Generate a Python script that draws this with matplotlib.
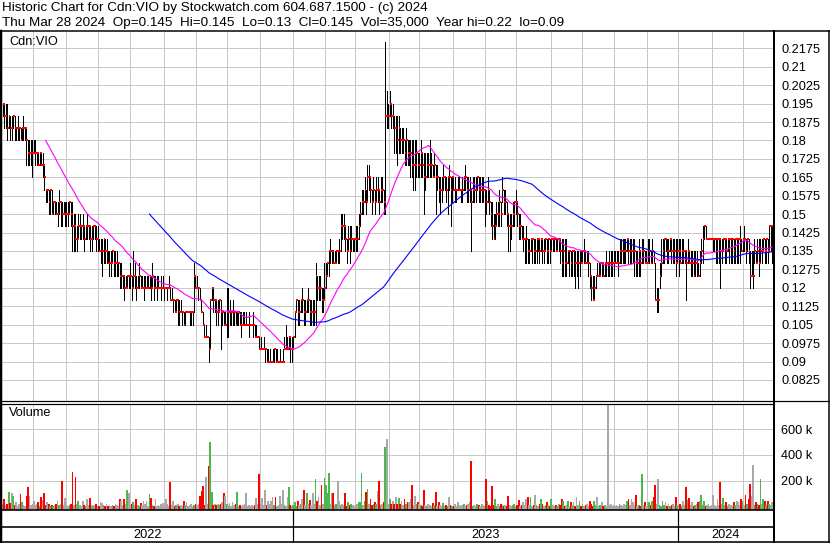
import numpy as np
import pandas as pd
import matplotlib
matplotlib.use("Agg")
import matplotlib.pyplot as plt

plt.rcParams['font.family'] = ['Liberation Sans', 'DejaVu Sans']

# prices in ticks of 0.005, one line per month (Apr 2022 .. Mar 2024)
TICK = 0.005
close_ticks = [
    39, 38, 38, 37, 38, 37, 37, 38, 37, 37, 37, 37, 36, 37, 37, 37, 36, 35, 35, 35, 35,
    35, 35, 35, 34, 35, 34, 34, 33, 32, 32, 31, 32, 30, 31, 31, 30, 30, 31, 31, 30, 30, 30,
    30, 30, 31, 30, 29, 29, 28, 28, 29, 29, 29, 29, 28, 29, 29, 29, 28, 28, 29, 29, 28, 28,
    27, 27, 27, 28, 27, 27, 26, 26, 26, 27, 26, 26, 26, 26, 25, 25, 25, 24, 24, 25, 25,
    25, 24, 25, 25, 24, 24, 25, 24, 24, 24, 24, 24, 24, 25, 24, 25, 24, 24, 24, 24, 24, 24, 24,
    24, 24, 24, 24, 23, 23, 23, 22, 23, 23, 22, 22, 22, 21, 22, 22, 22, 22, 22, 22, 25, 24,
    24, 24, 23, 22, 21, 20, 20, 20, 19, 23, 24, 23, 23, 22, 22, 23, 22, 22, 21, 21, 22,
    22, 22, 22, 22, 22, 21, 22, 22, 21, 21, 21, 21, 21, 21, 21, 21, 21, 21, 20, 20, 20, 19,
    19, 19, 19, 19, 18, 18, 18, 18, 18, 19, 18, 18, 18, 18, 18, 18, 19, 19, 19, 20, 19, 19,
    20, 22, 23, 22, 22, 23, 23, 22, 22, 23, 23, 22, 22, 22, 22, 25, 24, 24, 24, 23, 23, 24,
    25, 26, 27, 27, 27, 26, 26, 27, 27, 27, 29, 29, 29, 28, 27, 28, 27, 28, 28, 28,
    28, 28, 29, 30, 31, 31, 32, 31, 33, 33, 32, 31, 32, 31, 32, 32, 31, 32, 32, 31, 38, 38, 38,
    39, 38, 38, 37, 37, 36, 37, 36, 36, 36, 35, 36, 35, 35, 35, 34, 34, 34, 35, 34,
    34, 35, 34, 33, 33, 34, 34, 34, 34, 33, 34, 33, 33, 32, 32, 32, 33, 33, 32, 33, 33, 32, 33,
    32, 32, 32, 32, 32, 32, 32, 33, 33, 32, 32, 32, 31, 32, 32, 32, 33, 32, 32, 32, 32, 32,
    31, 32, 31, 30, 29, 28, 29, 30, 30, 31, 30, 32, 31, 31, 30, 29, 29, 29, 30, 31, 31,
    30, 29, 29, 28, 28, 28, 28, 27, 27, 28, 28, 27, 27, 28, 28, 27, 28, 27, 27, 28, 27, 28, 27,
    28, 28, 28, 27, 28, 28, 27, 26, 27, 26, 26, 27, 27, 26, 27, 27, 26, 26, 26, 27, 26,
    27, 27, 26, 26, 26, 25, 24, 23, 24, 25, 25, 25, 26, 26, 25, 26, 26, 26, 26, 26, 26, 26,
    26, 26, 26, 27, 27, 27, 27, 27, 28, 27, 27, 27, 27, 27, 26, 26, 27, 26, 27, 27, 26, 26,
    26, 27, 26, 27, 26, 23, 23, 23, 25, 26, 27, 28, 28, 27, 27, 28, 27, 27, 27, 26, 27,
    27, 26, 27, 27, 27, 26, 27, 26, 26, 26, 25, 26, 26, 25, 26, 27, 28, 29, 28, 28, 28, 28, 28,
    28, 28, 28, 28, 28, 27, 27, 28, 28, 27, 28, 28, 28, 28, 27, 28, 28, 28, 28, 27, 28,
    28, 27, 28, 27, 25, 25, 25, 27, 26, 27, 26, 27, 27, 28, 27, 28, 27, 29, 29, 29,
]
high_ticks = [
    39, 39, 39, 39, 38, 38, 38, 38, 38, 37, 38, 37, 37, 37, 38, 37, 37, 36, 36, 36, 36,
    36, 36, 35, 35, 35, 35, 35, 34, 32, 32, 32, 32, 32, 31, 31, 31, 31, 32, 31, 31, 31, 31,
    31, 31, 31, 31, 31, 30, 30, 29, 30, 30, 29, 30, 29, 29, 30, 29, 29, 29, 29, 29, 29, 29,
    28, 28, 28, 28, 28, 28, 27, 27, 27, 27, 27, 27, 27, 26, 26, 26, 25, 25, 25, 25, 25,
    26, 25, 27, 26, 25, 25, 26, 25, 25, 25, 25, 25, 25, 25, 25, 26, 25, 25, 25, 25, 24, 25, 25,
    24, 24, 24, 25, 24, 24, 23, 23, 23, 23, 23, 23, 22, 22, 22, 22, 22, 22, 22, 22, 26, 25,
    25, 24, 24, 23, 22, 21, 21, 20, 20, 23, 24, 24, 23, 23, 23, 23, 23, 22, 22, 22, 24,
    24, 23, 22, 23, 22, 22, 22, 22, 22, 22, 22, 22, 22, 21, 22, 21, 21, 22, 21, 21, 20, 20,
    20, 19, 20, 19, 19, 19, 19, 18, 19, 19, 19, 19, 18, 19, 18, 19, 20, 21, 20, 20, 20, 20,
    20, 22, 23, 23, 23, 23, 24, 23, 23, 23, 24, 23, 23, 23, 23, 26, 25, 25, 25, 24, 24, 26,
    26, 26, 27, 28, 27, 27, 27, 27, 27, 28, 30, 30, 30, 29, 28, 29, 29, 29, 28, 28,
    29, 29, 30, 31, 32, 32, 33, 32, 34, 34, 33, 32, 33, 32, 33, 33, 32, 33, 33, 32, 44, 40, 39,
    40, 39, 39, 38, 38, 38, 38, 37, 37, 37, 36, 37, 36, 36, 36, 36, 36, 36, 36, 35,
    35, 36, 35, 35, 35, 35, 35, 36, 35, 34, 35, 34, 34, 33, 33, 33, 34, 33, 33, 33, 34, 33, 33,
    33, 33, 32, 33, 33, 32, 33, 33, 34, 33, 33, 33, 32, 33, 33, 33, 33, 33, 33, 33, 33, 32,
    32, 33, 32, 31, 31, 30, 30, 31, 31, 32, 31, 33, 32, 32, 31, 30, 30, 30, 31, 31, 32,
    31, 30, 30, 29, 29, 28, 29, 28, 28, 28, 28, 28, 28, 28, 28, 28, 28, 28, 28, 28, 28, 28, 28,
    28, 28, 28, 28, 28, 28, 28, 28, 28, 28, 28, 27, 27, 27, 27, 27, 27, 27, 27, 27, 27,
    27, 28, 27, 27, 27, 26, 25, 25, 25, 25, 26, 26, 26, 26, 26, 26, 27, 26, 27, 27, 27, 27,
    27, 27, 27, 28, 28, 28, 28, 28, 28, 28, 28, 28, 28, 28, 27, 27, 28, 27, 28, 28, 27, 27,
    28, 28, 27, 28, 27, 26, 24, 24, 26, 28, 28, 28, 28, 28, 28, 28, 28, 28, 28, 28, 28,
    28, 28, 28, 28, 27, 27, 28, 27, 27, 27, 27, 27, 27, 26, 27, 28, 29, 29, 29, 28, 28, 28, 28,
    28, 28, 28, 28, 28, 28, 28, 28, 28, 28, 28, 28, 28, 28, 28, 28, 28, 28, 29, 28, 28,
    29, 28, 28, 28, 27, 27, 27, 28, 27, 28, 28, 28, 28, 28, 28, 28, 28, 29, 29, 29,
]
low_ticks = [
    38, 37, 37, 36, 37, 36, 36, 37, 36, 36, 36, 36, 36, 36, 36, 36, 34, 34, 34, 34, 33,
    35, 34, 34, 34, 34, 34, 33, 32, 31, 31, 30, 30, 30, 30, 30, 30, 29, 30, 29, 29, 30, 29,
    29, 29, 30, 29, 27, 27, 27, 27, 28, 28, 28, 28, 27, 28, 28, 28, 27, 27, 28, 28, 27, 27,
    27, 26, 25, 26, 26, 26, 26, 25, 25, 26, 25, 25, 25, 25, 24, 24, 24, 23, 24, 24, 24,
    24, 23, 24, 24, 23, 24, 24, 24, 24, 23, 24, 24, 24, 24, 23, 24, 23, 24, 23, 24, 24, 23, 24,
    23, 24, 23, 24, 23, 23, 22, 22, 22, 21, 21, 22, 21, 21, 21, 22, 22, 21, 21, 21, 22, 24,
    24, 23, 23, 22, 21, 20, 20, 20, 18, 19, 23, 22, 22, 21, 21, 22, 19, 21, 21, 21, 20,
    20, 21, 21, 21, 21, 21, 21, 21, 21, 20, 21, 21, 21, 21, 20, 21, 21, 20, 20, 20, 20, 19,
    19, 19, 19, 18, 18, 18, 18, 18, 18, 18, 18, 18, 18, 18, 18, 18, 19, 19, 19, 19, 18, 18,
    19, 20, 22, 21, 21, 22, 22, 21, 21, 22, 22, 21, 21, 21, 21, 21, 23, 23, 23, 22, 22, 23,
    24, 25, 25, 26, 26, 26, 26, 26, 26, 26, 27, 28, 28, 27, 26, 27, 26, 27, 27, 27,
    27, 27, 28, 29, 30, 30, 31, 30, 31, 32, 31, 30, 31, 30, 31, 31, 30, 31, 31, 30, 30, 37, 37,
    38, 37, 37, 35, 35, 34, 35, 35, 35, 35, 34, 34, 34, 34, 33, 33, 32, 32, 33, 33,
    33, 33, 33, 30, 32, 33, 33, 33, 33, 33, 33, 30, 32, 31, 30, 31, 32, 32, 31, 30, 32, 29, 31,
    32, 31, 31, 32, 32, 31, 31, 32, 32, 31, 31, 31, 27, 31, 31, 31, 32, 31, 31, 31, 31, 29,
    30, 31, 30, 29, 28, 28, 28, 29, 29, 29, 29, 31, 30, 30, 29, 27, 27, 28, 29, 29, 30,
    29, 28, 28, 28, 27, 26, 26, 26, 26, 27, 26, 26, 26, 26, 27, 26, 27, 26, 26, 27, 26, 26, 26,
    27, 27, 27, 27, 27, 27, 26, 25, 25, 25, 25, 26, 25, 25, 25, 25, 24, 25, 24, 25, 26,
    26, 26, 26, 26, 25, 24, 23, 23, 23, 24, 25, 25, 25, 25, 25, 25, 25, 25, 25, 25, 25, 25,
    26, 26, 25, 26, 26, 26, 26, 26, 27, 26, 26, 26, 26, 25, 25, 25, 25, 25, 26, 26, 26, 26,
    26, 26, 26, 26, 26, 23, 22, 22, 24, 25, 26, 26, 27, 26, 26, 27, 26, 26, 26, 25, 26,
    25, 26, 26, 26, 26, 23, 26, 26, 25, 25, 25, 25, 25, 25, 25, 26, 26, 28, 28, 28, 28, 28, 28,
    27, 27, 26, 26, 26, 24, 26, 27, 26, 26, 27, 26, 26, 26, 26, 26, 26, 26, 26, 27, 27,
    27, 26, 27, 26, 24, 25, 24, 26, 26, 26, 25, 26, 26, 27, 26, 26, 26, 27, 27, 26,
]
# daily volume, thousands of shares
volume_k = [
    20, 55, 10, 15, 110, 25, 100, 80, 10, 35, 5, 15, 95, 35, 10, 5, 80, 150, 80, 10, 15,
    40, 10, 15, 30, 5, 70, 50, 100, 10, 30, 15, 5, 10, 5, 10, 20, 40, 10, 15, 200, 10, 65,
    10, 5, 10, 15, 265, 10, 225, 20, 40, 10, 5, 40, 10, 5, 55, 10, 65, 10, 5, 10, 15, 5,
    5, 35, 25, 10, 5, 15, 5, 10, 5, 10, 5, 15, 10, 5, 55, 40, 10, 55, 15, 130, 100,
    10, 15, 35, 10, 55, 10, 5, 25, 10, 40, 15, 40, 5, 95, 65, 10, 5, 60, 5, 10, 5, 15, 25,
    10, 60, 15, 5, 190, 10, 40, 5, 10, 15, 5, 10, 5, 40, 10, 30, 5, 10, 15, 5, 10, 15,
    10, 15, 80, 120, 155, 10, 230, 15, 315, 500, 110, 10, 20, 10, 15, 10, 20, 30, 105, 80, 20,
    10, 25, 5, 30, 10, 15, 110, 5, 10, 5, 10, 15, 105, 5, 10, 5, 10, 5, 10, 65, 15, 250,
    15, 65, 10, 130, 10, 40, 15, 40, 75, 10, 75, 5, 10, 80, 15, 130, 10, 5, 75, 150, 10, 5,
    10, 30, 5, 40, 10, 15, 55, 130, 10, 100, 15, 50, 10, 105, 15, 210, 40, 75, 10, 165, 15, 220,
    165, 100, 260, 15, 100, 100, 10, 20, 200, 40, 10, 15, 10, 105, 5, 35, 10, 15, 10, 5,
    10, 15, 30, 35, 260, 10, 45, 115, 135, 15, 60, 10, 20, 35, 15, 120, 200, 10, 15, 35, 465, 520, 20,
    60, 20, 45, 15, 75, 20, 65, 15, 45, 10, 60, 15, 35, 35, 60, 165, 10, 80, 15, 30,
    20, 10, 5, 130, 10, 5, 20, 10, 5, 25, 10, 110, 5, 35, 10, 5, 25, 5, 10, 5, 70, 10, 5,
    5, 20, 5, 30, 10, 5, 10, 20, 5, 10, 20, 30, 355, 5, 10, 5, 15, 10, 5, 15, 10, 5,
    210, 40, 10, 5, 160, 10, 55, 5, 15, 5, 20, 10, 5, 10, 5, 80, 10, 5, 10, 15, 5,
    10, 50, 5, 10, 30, 10, 55, 70, 10, 75, 5, 10, 90, 10, 5, 15, 55, 15, 5, 10, 35, 10, 5,
    55, 10, 5, 10, 5, 20, 10, 55, 40, 5, 10, 40, 5, 30, 10, 30, 5, 75, 10, 40, 5,
    10, 5, 10, 15, 5, 40, 20, 5, 45, 10, 75, 5, 10, 30, 5, 10, 5, 900, 10, 20, 5, 10,
    5, 10, 5, 20, 10, 5, 15, 10, 40, 55, 10, 60, 30, 10, 90, 5, 10, 5, 250, 10, 30, 5,
    35, 30, 10, 45, 75, 165, 15, 215, 10, 5, 45, 10, 30, 5, 15, 5, 10, 15, 5, 75, 10,
    10, 20, 5, 45, 10, 150, 50, 65, 10, 35, 5, 10, 15, 35, 40, 90, 10, 40, 5, 10, 15, 5, 10,
    85, 10, 5, 55, 10, 190, 15, 65, 10, 30, 5, 15, 10, 5, 35, 10, 45, 30, 10, 55, 45,
    10, 85, 15, 55, 175, 80, 320, 10, 30, 15, 10, 210, 15, 60, 45, 10, 40, 15, 10, 35,
]

header1 = "Historic Chart for Cdn:VIO by Stockwatch.com 604.687.1500 - (c) 2024"
header2 = ("Thu Mar 28 2024  Op=0.145  Hi=0.145  Lo=0.13  Cl=0.145  "
           "Vol=35,000  Year hi=0.22  lo=0.09")
price_levels = [0.0825, 0.09, 0.0975, 0.105, 0.1125, 0.12, 0.1275, 0.135, 0.1425, 0.15,
                0.1575, 0.165, 0.1725, 0.18, 0.1875, 0.195, 0.2025, 0.21, 0.2175]
volume_levels = [200, 400, 600]

W, H = 830, 543
close = np.array(close_ticks) * TICK
high = np.array(high_ticks) * TICK
low = np.array(low_ticks) * TICK
vol = np.array(volume_k, dtype=float)
n = len(close)
x = np.arange(n)
dates = pd.bdate_range("2022-04-01", periods=n)
month_starts = [i for i in range(1, n) if dates[i].month != dates[i - 1].month]
year_starts = [i for i in month_starts if dates[i].month == 1]

ma30 = pd.Series(close).rolling(30).mean()
ma100 = pd.Series(close).rolling(100).mean()

grid_c = "#C8C8C8"
px = 0.72  # one pixel in points
fs = 9.2


def pix_axes(fig, x0, y0, x1, y1):
    return fig.add_axes([x0 / W, 1 - y1 / H, (x1 - x0) / W, (y1 - y0) / H])


fig = plt.figure(figsize=(W / 100, H / 100), dpi=100)

# price panel
ax = pix_axes(fig, 2, 31.5, 773, 400.5)
ax.set_xlim(-0.5, n - 0.5)
ax.set_ylim(0.07415, 0.22434)
for i in month_starts:
    ax.axvline(i - 0.5, color=grid_c, lw=px, zorder=0, antialiased=False)
ax.set_yticks(price_levels)
ax.set_yticklabels([f"{v:g}" for v in price_levels])
ax.yaxis.grid(True, color=grid_c, lw=px, zorder=0, antialiased=False)
ax.yaxis.tick_right()
ax.tick_params(axis="y", length=0, pad=6, labelsize=fs)
ax.set_xticks([])
ax.vlines(x, low, high, color="black", lw=px, antialiased=False, zorder=2)
ax.hlines(close, x, x + 1.2, color="red", lw=1.4, antialiased=False, zorder=3)
ax.plot(x, ma30, color="#FF00FF", lw=0.8, zorder=4)
ax.plot(x, ma100, color="#0000FF", lw=0.8, zorder=4)
ax.text(0.009, 0.972, "Cdn:VIO", transform=ax.transAxes, fontsize=fs, va="center")
for s in ax.spines.values():
    s.set_visible(False)

# volume panel
axv = pix_axes(fig, 2, 403.5, 773, 509.5)
axv.set_xlim(-0.5, n - 0.5)
vbottom = -25
axv.set_ylim(vbottom, 800)
for i in month_starts:
    axv.axvline(i - 0.5, color=grid_c, lw=px, zorder=0, antialiased=False)
axv.set_yticks(volume_levels)
axv.set_yticklabels([f"{v} k" for v in volume_levels])
axv.yaxis.grid(True, color=grid_c, lw=px, zorder=0, antialiased=False)
axv.yaxis.tick_right()
axv.tick_params(axis="y", length=0, pad=6, labelsize=fs)
axv.set_xticks([])
change = np.sign(np.diff(close, prepend=close[0]))
vcolors = np.where(change > 0, "#4CB84C", np.where(change < 0, "#FF0000", "#A8A8A8"))
axv.bar(x, vol - vbottom, bottom=vbottom, width=1.2, color=vcolors,
        antialiased=False, zorder=2)
axv.text(0.009, 0.91, "Volume", transform=axv.transAxes, fontsize=fs, va="center")
for s in axv.spines.values():
    s.set_visible(False)

# year row
axy = pix_axes(fig, 2, 527, 773, 541.5)
axy.set_xlim(-0.5, n - 0.5)
axy.set_ylim(0, 1)
axy.axis("off")
bounds = [0] + year_starts + [n]
for a, b in zip(bounds[:-1], bounds[1:]):
    axy.text((a + b - 1) / 2, 0.45, str(dates[a].year), ha="center", va="center", fontsize=fs)

# frame lines in pixel space
ov = fig.add_axes([0, 0, 1, 1])
ov.set_xlim(0, W)
ov.set_ylim(H, 0)
ov.axis("off")
k = "black"
ov.plot([0, W], [31, 31], color=k, lw=1.5 * px)
ov.plot([1, 1], [31, 542], color=k, lw=2.5 * px)
ov.plot([774, 774], [31, 543], color=k, lw=2 * px)
ov.plot([828.5, 828.5], [31, 543], color=k, lw=1.5 * px)
ov.plot([0, W], [401, 401], color=k, lw=1.2 * px)
ov.plot([0, 774], [403.5, 403.5], color=k, lw=1.2 * px)
ov.plot([0, 774], [510, 510], color=k, lw=1.6 * px)
ov.plot([0, 774], [527, 527], color=k, lw=1.6 * px)
ov.plot([0, W], [541.8, 541.8], color=k, lw=1.6 * px)
for i in year_starts:
    xs = 2 + i * (771 / n)
    ov.plot([xs, xs], [510, 542], color=k, lw=1.2 * px)
ov.text(2, 7.5, header1, fontsize=9.7, va="center")
ov.text(2, 23, header2, fontsize=9.7, va="center")

fig.savefig("out.png", dpi=100)
